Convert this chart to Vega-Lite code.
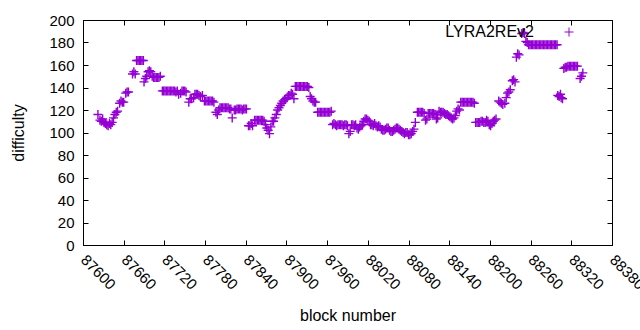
{
  "$schema": "https://vega.github.io/schema/vega-lite/v6.json",
  "width": 529,
  "height": 225,
  "autosize": "none",
  "padding": {"left": 83, "top": 20, "right": 28, "bottom": 85},
  "background": "white",
  "config": {
    "view": {"stroke": "black", "strokeWidth": 1},
    "font": "Liberation Sans",
    "axis": {"grid": false, "domain": false, "tickColor": "black", "tickSize": -5, "tickWidth": 1, "labelColor": "black", "labelFont": "Liberation Sans", "labelFontSize": 15, "titleFont": "Liberation Sans", "titleFontSize": 16, "titleFontWeight": "normal", "titleColor": "black"}
  },
  "data": {"values": [
    {"block":87622,"difficulty":116},{"block":87625,"difficulty":111},{"block":87627,"difficulty":110},{"block":87629,"difficulty":112},{"block":87631,"difficulty":109},{"block":87633,"difficulty":108},{"block":87635,"difficulty":107},{"block":87637,"difficulty":106},{"block":87639,"difficulty":108},{"block":87641,"difficulty":107},{"block":87643,"difficulty":109},{"block":87645,"difficulty":113},{"block":87647,"difficulty":116},{"block":87649,"difficulty":118},{"block":87651,"difficulty":119},{"block":87654,"difficulty":126},{"block":87656,"difficulty":128},{"block":87658,"difficulty":127},{"block":87660,"difficulty":127},{"block":87663,"difficulty":135},{"block":87665,"difficulty":136},{"block":87667,"difficulty":136},{"block":87673,"difficulty":152},{"block":87675,"difficulty":154},{"block":87677,"difficulty":152},{"block":87679,"difficulty":164},{"block":87681,"difficulty":164},{"block":87683,"difficulty":164},{"block":87685,"difficulty":164},{"block":87687,"difficulty":164},{"block":87689,"difficulty":164},{"block":87690,"difficulty":145},{"block":87692,"difficulty":148},{"block":87694,"difficulty":150},{"block":87696,"difficulty":154},{"block":87698,"difficulty":155},{"block":87700,"difficulty":154},{"block":87702,"difficulty":150},{"block":87704,"difficulty":149},{"block":87706,"difficulty":149},{"block":87708,"difficulty":149},{"block":87710,"difficulty":149},{"block":87712,"difficulty":149},{"block":87714,"difficulty":150},
    {"block":87717,"difficulty":137},{"block":87719,"difficulty":137},{"block":87721,"difficulty":137},{"block":87723,"difficulty":137},{"block":87725,"difficulty":137},{"block":87727,"difficulty":137},{"block":87729,"difficulty":137},{"block":87731,"difficulty":137},{"block":87733,"difficulty":137},{"block":87735,"difficulty":137},{"block":87737,"difficulty":136},{"block":87739,"difficulty":137},{"block":87741,"difficulty":134},{"block":87744,"difficulty":135},{"block":87746,"difficulty":137},{"block":87748,"difficulty":137},{"block":87750,"difficulty":137},{"block":87752,"difficulty":136},{"block":87756,"difficulty":127},{"block":87758,"difficulty":130},{"block":87760,"difficulty":130},{"block":87763,"difficulty":131},{"block":87765,"difficulty":134},{"block":87767,"difficulty":134},{"block":87769,"difficulty":134},{"block":87771,"difficulty":133},{"block":87773,"difficulty":132},{"block":87776,"difficulty":133},{"block":87779,"difficulty":128},{"block":87781,"difficulty":128},{"block":87783,"difficulty":128},{"block":87785,"difficulty":128},{"block":87787,"difficulty":128},{"block":87789,"difficulty":128},{"block":87791,"difficulty":128},{"block":87793,"difficulty":127},{"block":87796,"difficulty":118},{"block":87798,"difficulty":116},{"block":87800,"difficulty":120},{"block":87802,"difficulty":122},{"block":87804,"difficulty":122},{"block":87806,"difficulty":122},{"block":87808,"difficulty":122},{"block":87810,"difficulty":122},{"block":87812,"difficulty":122},{"block":87814,"difficulty":122},{"block":87816,"difficulty":121},{"block":87818,"difficulty":121},{"block":87820,"difficulty":113},{"block":87823,"difficulty":120},{"block":87825,"difficulty":120},{"block":87827,"difficulty":121},{"block":87829,"difficulty":121},{"block":87831,"difficulty":121},{"block":87833,"difficulty":121},{"block":87835,"difficulty":120},{"block":87837,"difficulty":121},{"block":87839,"difficulty":121},{"block":87841,"difficulty":121},
    {"block":87844,"difficulty":106},{"block":87846,"difficulty":106},{"block":87848,"difficulty":108},{"block":87850,"difficulty":106},{"block":87853,"difficulty":111},{"block":87855,"difficulty":111},{"block":87857,"difficulty":111},{"block":87859,"difficulty":111},{"block":87861,"difficulty":111},{"block":87863,"difficulty":111},{"block":87865,"difficulty":111},{"block":87867,"difficulty":110},{"block":87869,"difficulty":107},{"block":87871,"difficulty":104},{"block":87873,"difficulty":102},{"block":87875,"difficulty":99},{"block":87877,"difficulty":105},{"block":87879,"difficulty":110},{"block":87881,"difficulty":110},{"block":87883,"difficulty":113},{"block":87885,"difficulty":116},{"block":87887,"difficulty":120},{"block":87889,"difficulty":122},{"block":87891,"difficulty":124},{"block":87893,"difficulty":126},{"block":87895,"difficulty":128},{"block":87897,"difficulty":129},{"block":87899,"difficulty":130},{"block":87901,"difficulty":131},{"block":87903,"difficulty":133},{"block":87905,"difficulty":133},{"block":87907,"difficulty":135},{"block":87909,"difficulty":134},{"block":87911,"difficulty":130},{"block":87913,"difficulty":141},{"block":87915,"difficulty":141},{"block":87917,"difficulty":141},{"block":87919,"difficulty":141},{"block":87921,"difficulty":141},{"block":87923,"difficulty":141},{"block":87925,"difficulty":141},{"block":87927,"difficulty":141},{"block":87929,"difficulty":141},{"block":87931,"difficulty":141},{"block":87933,"difficulty":140},{"block":87935,"difficulty":132},{"block":87937,"difficulty":130},{"block":87939,"difficulty":128},{"block":87941,"difficulty":127},{"block":87943,"difficulty":127},
    {"block":87946,"difficulty":118},{"block":87948,"difficulty":118},{"block":87950,"difficulty":118},{"block":87952,"difficulty":118},{"block":87954,"difficulty":118},{"block":87956,"difficulty":118},{"block":87958,"difficulty":118},{"block":87960,"difficulty":118},{"block":87962,"difficulty":118},{"block":87964,"difficulty":118},{"block":87966,"difficulty":119},{"block":87968,"difficulty":107},{"block":87970,"difficulty":108},{"block":87972,"difficulty":107},{"block":87974,"difficulty":106},{"block":87976,"difficulty":107},{"block":87978,"difficulty":107},{"block":87980,"difficulty":107},{"block":87982,"difficulty":107},{"block":87984,"difficulty":106},{"block":87986,"difficulty":107},{"block":87988,"difficulty":107},{"block":87990,"difficulty":106},{"block":87992,"difficulty":99},{"block":87994,"difficulty":101},{"block":87996,"difficulty":107},{"block":87998,"difficulty":107},{"block":88000,"difficulty":106},{"block":88002,"difficulty":107},{"block":88004,"difficulty":104},{"block":88006,"difficulty":103},{"block":88008,"difficulty":105},{"block":88010,"difficulty":106},{"block":88012,"difficulty":107},{"block":88014,"difficulty":110},{"block":88016,"difficulty":112},{"block":88018,"difficulty":112},{"block":88020,"difficulty":111},{"block":88022,"difficulty":110},{"block":88024,"difficulty":107},{"block":88026,"difficulty":107},{"block":88028,"difficulty":106},{"block":88030,"difficulty":108},{"block":88032,"difficulty":106},{"block":88034,"difficulty":105},{"block":88036,"difficulty":106},{"block":88038,"difficulty":105},{"block":88040,"difficulty":103},{"block":88042,"difficulty":102},{"block":88044,"difficulty":102},{"block":88046,"difficulty":103},{"block":88048,"difficulty":104},{"block":88050,"difficulty":104},{"block":88052,"difficulty":102},{"block":88054,"difficulty":101},{"block":88056,"difficulty":101},{"block":88058,"difficulty":102},{"block":88060,"difficulty":103},{"block":88062,"difficulty":104},{"block":88064,"difficulty":104},{"block":88066,"difficulty":103},{"block":88068,"difficulty":102},{"block":88070,"difficulty":101},{"block":88072,"difficulty":100},{"block":88074,"difficulty":99},{"block":88076,"difficulty":100},{"block":88078,"difficulty":100},{"block":88080,"difficulty":98},{"block":88082,"difficulty":98},{"block":88084,"difficulty":99},{"block":88086,"difficulty":101},{"block":88088,"difficulty":103},{"block":88090,"difficulty":109},
    {"block":88093,"difficulty":118},{"block":88095,"difficulty":118},{"block":88097,"difficulty":118},{"block":88099,"difficulty":118},{"block":88101,"difficulty":118},{"block":88103,"difficulty":117},{"block":88105,"difficulty":111},{"block":88107,"difficulty":112},{"block":88109,"difficulty":117},{"block":88111,"difficulty":117},{"block":88113,"difficulty":117},{"block":88115,"difficulty":117},{"block":88117,"difficulty":117},{"block":88119,"difficulty":116},{"block":88121,"difficulty":112},{"block":88123,"difficulty":113},{"block":88125,"difficulty":119},{"block":88127,"difficulty":118},{"block":88129,"difficulty":118},{"block":88131,"difficulty":118},{"block":88133,"difficulty":117},{"block":88135,"difficulty":116},{"block":88137,"difficulty":116},{"block":88139,"difficulty":115},{"block":88141,"difficulty":114},{"block":88143,"difficulty":113},{"block":88145,"difficulty":112},{"block":88147,"difficulty":113},{"block":88149,"difficulty":115},{"block":88151,"difficulty":119},{"block":88153,"difficulty":121},{"block":88155,"difficulty":120},{"block":88157,"difficulty":127},{"block":88159,"difficulty":127},{"block":88161,"difficulty":127},{"block":88163,"difficulty":127},{"block":88165,"difficulty":127},{"block":88167,"difficulty":127},{"block":88169,"difficulty":127},{"block":88171,"difficulty":127},{"block":88173,"difficulty":127},{"block":88175,"difficulty":127},{"block":88177,"difficulty":126},
    {"block":88179,"difficulty":109},{"block":88181,"difficulty":109},{"block":88183,"difficulty":109},{"block":88185,"difficulty":109},{"block":88187,"difficulty":110},{"block":88189,"difficulty":110},{"block":88191,"difficulty":109},{"block":88193,"difficulty":109},{"block":88195,"difficulty":111},{"block":88197,"difficulty":110},{"block":88199,"difficulty":107},{"block":88201,"difficulty":106},{"block":88203,"difficulty":108},{"block":88205,"difficulty":110},{"block":88207,"difficulty":111},{"block":88209,"difficulty":112},{"block":88213,"difficulty":128},{"block":88215,"difficulty":127},{"block":88217,"difficulty":126},{"block":88219,"difficulty":125},{"block":88222,"difficulty":126},{"block":88224,"difficulty":131},{"block":88226,"difficulty":135},{"block":88228,"difficulty":136},{"block":88230,"difficulty":138},{"block":88233,"difficulty":146},{"block":88235,"difficulty":147},{"block":88237,"difficulty":145},{"block":88239,"difficulty":167},{"block":88241,"difficulty":170},{"block":88243,"difficulty":169},{"block":88247,"difficulty":188},{"block":88249,"difficulty":189},{"block":88251,"difficulty":188},{"block":88253,"difficulty":181},{"block":88255,"difficulty":180},{"block":88257,"difficulty":178},{"block":88259,"difficulty":178},{"block":88261,"difficulty":178},{"block":88263,"difficulty":178},{"block":88265,"difficulty":178},{"block":88267,"difficulty":178},{"block":88269,"difficulty":178},{"block":88271,"difficulty":178},{"block":88273,"difficulty":178},{"block":88275,"difficulty":178},{"block":88277,"difficulty":178},{"block":88279,"difficulty":178},{"block":88281,"difficulty":178},{"block":88283,"difficulty":178},{"block":88285,"difficulty":178},{"block":88287,"difficulty":178},{"block":88289,"difficulty":178},{"block":88291,"difficulty":178},{"block":88293,"difficulty":178},{"block":88295,"difficulty":178},{"block":88297,"difficulty":178},{"block":88299,"difficulty":178},
    {"block":88300,"difficulty":133},{"block":88302,"difficulty":132},{"block":88304,"difficulty":134},{"block":88305,"difficulty":131},{"block":88307,"difficulty":130},{"block":88309,"difficulty":157},{"block":88311,"difficulty":158},{"block":88313,"difficulty":158},{"block":88315,"difficulty":159},{"block":88317,"difficulty":159},{"block":88319,"difficulty":159},{"block":88321,"difficulty":159},{"block":88323,"difficulty":159},{"block":88325,"difficulty":159},{"block":88327,"difficulty":159},{"block":88329,"difficulty":159},{"block":88333,"difficulty":148},{"block":88335,"difficulty":150},{"block":88337,"difficulty":153}
  ]},
  "layer": [
    {
      "mark": {"type": "point", "shape": "M-1,0H1M0,-1V1", "filled": false, "size": 81, "strokeWidth": 1.4, "opacity": 1},
      "encoding": {
        "x": {"field": "block", "type": "quantitative", "scale": {"domain": [87600, 88380], "nice": false, "zero": false},
              "axis": {"values": [87600,87660,87720,87780,87840,87900,87960,88020,88080,88140,88200,88260,88320,88380], "format": "d", "labelAngle": 45, "labelAlign": "left", "labelBaseline": "middle", "labelPadding": 17, "title": "block number", "titleY": 75, "titleBaseline": "alphabetic"}},
        "y": {"field": "difficulty", "type": "quantitative", "scale": {"domain": [0, 200], "nice": false},
              "axis": {"values": [0,20,40,60,80,100,120,140,160,180,200], "labelPadding": 14, "title": "difficulty", "titleX": -65, "titleBaseline": "middle"}},
        "color": {"datum": "LYRA2REv2", "type": "nominal", "scale": {"range": ["#9400d3"]},
                  "legend": {"title": null, "orient": "none", "legendX": 478, "legendY": 4, "padding": 0, "symbolType": "M-1,0H1M0,-1V1", "symbolSize": 81, "symbolStrokeWidth": 1, "labelAlign": "right", "labelOffset": -43, "labelFontSize": 16, "labelFont": "Liberation Sans", "labelColor": "black"}}
      }
    },
    {
      "mark": {"type": "point", "opacity": 0},
      "encoding": {
        "x": {"field": "block", "type": "quantitative", "axis": {"orient": "top", "values": [87600,87660,87720,87780,87840,87900,87960,88020,88080,88140,88200,88260,88320,88380], "labels": false, "title": null}},
        "y": {"field": "difficulty", "type": "quantitative", "axis": {"orient": "right", "values": [0,20,40,60,80,100,120,140,160,180,200], "labels": false, "title": null}}
      }
    }
  ],
  "resolve": {"axis": {"x": "independent", "y": "independent"}}
}
